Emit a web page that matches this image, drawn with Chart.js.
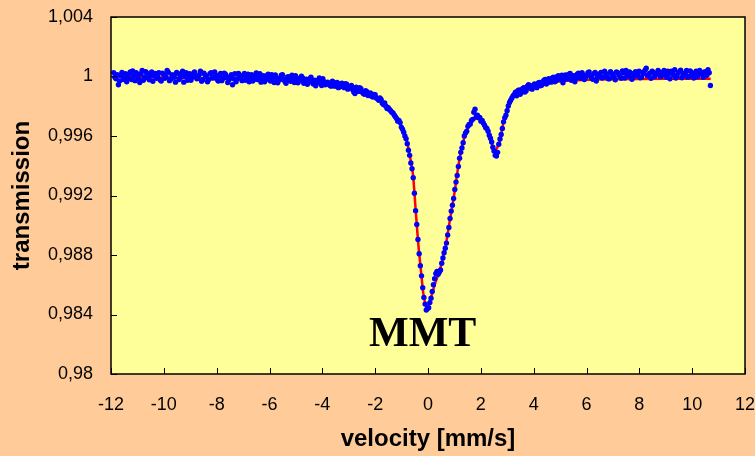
<!DOCTYPE html>
<html>
<head>
<meta charset="utf-8">
<script src="https://cdn.jsdelivr.net/npm/chart.js@4.4.1/dist/chart.umd.min.js"></script>
<style>
  html, body { margin: 0; padding: 0; background: #FFCC99; }
  #wrap { width: 755px; height: 456px; position: relative; }
</style>
</head>
<body>
<div id="wrap"><canvas id="c" width="755" height="456"></canvas></div>
<script>
// Measured Mössbauer spectrum: channel velocities (mm/s)
const velocity = [
  -11.900,-11.855,-11.810,-11.765,-11.720,-11.675,-11.630,-11.585,-11.540,-11.495,-11.450,-11.405,-11.360,-11.315,-11.270,-11.225,-11.180,-11.135,-11.090,-11.045,
  -11.000,-10.955,-10.910,-10.865,-10.820,-10.775,-10.730,-10.685,-10.640,-10.595,-10.550,-10.505,-10.460,-10.415,-10.370,-10.325,-10.280,-10.235,-10.190,-10.145,
  -10.100,-10.055,-10.010,-9.965,-9.920,-9.875,-9.830,-9.785,-9.740,-9.695,-9.650,-9.605,-9.560,-9.515,-9.470,-9.425,-9.380,-9.335,-9.290,-9.245,
  -9.200,-9.155,-9.110,-9.065,-9.020,-8.975,-8.930,-8.885,-8.840,-8.795,-8.750,-8.705,-8.660,-8.615,-8.570,-8.525,-8.480,-8.435,-8.390,-8.345,
  -8.300,-8.255,-8.210,-8.165,-8.120,-8.075,-8.030,-7.985,-7.940,-7.895,-7.850,-7.805,-7.760,-7.715,-7.670,-7.625,-7.580,-7.535,-7.490,-7.445,
  -7.400,-7.355,-7.310,-7.265,-7.220,-7.175,-7.130,-7.085,-7.040,-6.995,-6.950,-6.905,-6.860,-6.815,-6.770,-6.725,-6.680,-6.635,-6.590,-6.545,
  -6.500,-6.455,-6.410,-6.365,-6.320,-6.275,-6.230,-6.185,-6.140,-6.095,-6.050,-6.005,-5.960,-5.915,-5.870,-5.825,-5.780,-5.735,-5.690,-5.645,
  -5.600,-5.555,-5.510,-5.465,-5.420,-5.375,-5.330,-5.285,-5.240,-5.195,-5.150,-5.105,-5.060,-5.015,-4.970,-4.925,-4.880,-4.835,-4.790,-4.745,
  -4.700,-4.655,-4.610,-4.565,-4.520,-4.475,-4.430,-4.385,-4.340,-4.295,-4.250,-4.205,-4.160,-4.115,-4.070,-4.025,-3.980,-3.935,-3.890,-3.845,
  -3.800,-3.755,-3.710,-3.665,-3.620,-3.575,-3.530,-3.485,-3.440,-3.395,-3.350,-3.305,-3.260,-3.215,-3.170,-3.125,-3.080,-3.035,-2.990,-2.945,
  -2.900,-2.855,-2.810,-2.765,-2.720,-2.675,-2.630,-2.585,-2.540,-2.495,-2.450,-2.405,-2.360,-2.315,-2.270,-2.225,-2.180,-2.135,-2.090,-2.045,
  -2.000,-1.955,-1.910,-1.865,-1.820,-1.775,-1.730,-1.685,-1.640,-1.595,-1.550,-1.505,-1.460,-1.415,-1.370,-1.325,-1.280,-1.235,-1.190,-1.145,
  -1.100,-1.055,-1.010,-0.965,-0.920,-0.875,-0.830,-0.785,-0.740,-0.695,-0.650,-0.605,-0.560,-0.515,-0.470,-0.425,-0.380,-0.335,-0.290,-0.245,
  -0.200,-0.155,-0.110,-0.065,-0.020,0.025,0.070,0.115,0.160,0.205,0.250,0.295,0.340,0.385,0.430,0.475,0.520,0.565,0.610,0.655,
  0.700,0.745,0.790,0.835,0.880,0.925,0.970,1.015,1.060,1.105,1.150,1.195,1.240,1.285,1.330,1.375,1.420,1.465,1.510,1.555,
  1.600,1.645,1.690,1.735,1.780,1.825,1.870,1.915,1.960,2.005,2.050,2.095,2.140,2.185,2.230,2.275,2.320,2.365,2.410,2.455,
  2.500,2.545,2.590,2.635,2.680,2.725,2.770,2.815,2.860,2.905,2.950,2.995,3.040,3.085,3.130,3.175,3.220,3.265,3.310,3.355,
  3.400,3.445,3.490,3.535,3.580,3.625,3.670,3.715,3.760,3.805,3.850,3.895,3.940,3.985,4.030,4.075,4.120,4.165,4.210,4.255,
  4.300,4.345,4.390,4.435,4.480,4.525,4.570,4.615,4.660,4.705,4.750,4.795,4.840,4.885,4.930,4.975,5.020,5.065,5.110,5.155,
  5.200,5.245,5.290,5.335,5.380,5.425,5.470,5.515,5.560,5.605,5.650,5.695,5.740,5.785,5.830,5.875,5.920,5.965,6.010,6.055,
  6.100,6.145,6.190,6.235,6.280,6.325,6.370,6.415,6.460,6.505,6.550,6.595,6.640,6.685,6.730,6.775,6.820,6.865,6.910,6.955,
  7.000,7.045,7.090,7.135,7.180,7.225,7.270,7.315,7.360,7.405,7.450,7.495,7.540,7.585,7.630,7.675,7.720,7.765,7.810,7.855,
  7.900,7.945,7.990,8.035,8.080,8.125,8.170,8.215,8.260,8.305,8.350,8.395,8.440,8.485,8.530,8.575,8.620,8.665,8.710,8.755,
  8.800,8.845,8.890,8.935,8.980,9.025,9.070,9.115,9.160,9.205,9.250,9.295,9.340,9.385,9.430,9.475,9.520,9.565,9.610,9.655,
  9.700,9.745,9.790,9.835,9.880,9.925,9.970,10.015,10.060,10.105,10.150,10.195,10.240,10.285,10.330,10.375,10.420,10.465,10.510,10.555,
  10.600,10.645,10.690
];

// Relative transmission for each channel
const transmission = [
  1.00026,0.99995,0.99985,1.00012,0.99945,0.99970,1.00008,1.00028,0.99980,0.99992,1.00018,0.99965,0.99990,1.00015,1.00030,0.99980,1.00038,1.00005,0.99972,1.00025,
  1.00012,0.99985,0.99960,1.00018,1.00040,0.99975,0.99995,1.00032,1.00022,0.99990,0.99978,1.00008,1.00030,0.99968,1.00005,1.00020,0.99988,0.99998,1.00025,0.99978,
  0.99970,1.00022,1.00015,0.99988,0.99998,1.00040,1.00028,0.99972,0.99982,1.00010,1.00010,0.99995,0.99962,1.00028,1.00020,0.99980,0.99990,1.00015,1.00035,0.99962,
  1.00002,1.00025,0.99975,0.99995,1.00018,0.99975,0.99995,1.00018,1.00030,1.00002,0.99985,0.99988,1.00012,1.00035,0.99968,0.99978,1.00022,1.00008,1.00000,0.99965,
  0.99980,1.00018,1.00026,0.99990,0.99992,1.00030,1.00010,0.99982,0.99970,1.00005,1.00020,0.99972,0.99988,1.00022,1.00015,0.99995,0.99960,0.99978,0.99998,1.00012,
  0.99945,0.99985,1.00018,0.99965,0.99985,1.00020,1.00008,0.99990,0.99972,1.00008,1.00020,0.99975,0.99990,1.00015,0.99965,0.99995,1.00012,0.99970,0.99980,1.00010,
  1.00024,0.99980,0.99995,1.00018,0.99962,0.99990,1.00005,0.99965,0.99978,1.00005,1.00015,0.99985,0.99970,1.00012,0.99992,0.99960,1.00010,0.99992,0.99958,0.99975,
  0.99985,1.00008,1.00012,0.99980,0.99968,0.99955,0.99995,0.99998,0.99975,0.99968,1.00008,0.99985,0.99960,1.00005,0.99990,0.99958,0.99970,0.99978,1.00002,0.99990,
  0.99955,0.99970,0.99982,0.99948,0.99965,0.99985,0.99995,0.99962,0.99950,0.99975,0.99938,0.99955,0.99975,0.99990,0.99958,0.99940,0.99985,0.99965,0.99945,0.99950,
  0.99962,0.99952,0.99940,0.99935,0.99968,0.99962,0.99935,0.99940,0.99960,0.99925,0.99930,0.99950,0.99955,0.99932,0.99925,0.99952,0.99948,0.99915,0.99922,0.99930,
  0.99940,0.99912,0.99895,0.99885,0.99928,0.99910,0.99900,0.99925,0.99918,0.99895,0.99885,0.99880,0.99905,0.99898,0.99872,0.99880,0.99890,0.99868,0.99862,0.99880,
  0.99878,0.99855,0.99850,0.99840,0.99855,0.99845,0.99820,0.99812,0.99822,0.99800,0.99785,0.99790,0.99778,0.99770,0.99760,0.99755,0.99742,0.99730,0.99718,0.99700,
  0.99705,0.99690,0.99660,0.99645,0.99625,0.99600,0.99582,0.99548,0.99505,0.99470,0.99418,0.99380,0.99320,0.99215,0.99098,0.99005,0.98905,0.98808,0.98728,0.98660,
  0.98580,0.98515,0.98470,0.98430,0.98440,0.98445,0.98480,0.98510,0.98555,0.98600,0.98640,0.98675,0.98690,0.98670,0.98685,0.98700,0.98745,0.98780,0.98815,0.98845,
  0.98880,0.98935,0.98985,0.99045,0.99095,0.99135,0.99180,0.99240,0.99290,0.99335,0.99395,0.99450,0.99490,0.99520,0.99555,0.99600,0.99620,0.99632,0.99665,0.99678,
  0.99680,0.99705,0.99712,0.99760,0.99780,0.99730,0.99740,0.99722,0.99725,0.99700,0.99705,0.99688,0.99672,0.99655,0.99650,0.99632,0.99605,0.99585,0.99560,0.99525,
  0.99500,0.99470,0.99465,0.99490,0.99545,0.99580,0.99610,0.99650,0.99695,0.99722,0.99740,0.99770,0.99802,0.99825,0.99840,0.99855,0.99870,0.99880,0.99895,0.99870,
  0.99905,0.99910,0.99880,0.99892,0.99918,0.99925,0.99895,0.99905,0.99935,0.99945,0.99940,0.99920,0.99915,0.99940,0.99950,0.99935,0.99925,0.99955,0.99960,0.99938,
  0.99942,0.99965,0.99975,0.99980,0.99950,0.99958,0.99985,0.99975,0.99962,0.99990,0.99995,0.99965,0.99970,0.99998,1.00005,0.99985,0.99978,1.00008,0.99958,0.99980,
  1.00010,0.99995,0.99985,1.00015,1.00020,0.99975,0.99990,1.00005,0.99965,0.99990,1.00015,1.00022,0.99998,0.99988,1.00025,1.00010,0.99980,0.99995,1.00008,1.00025,
  1.00030,1.00005,0.99992,0.99982,1.00018,1.00028,0.99970,0.99995,1.00012,1.00018,1.00028,0.99990,0.99995,1.00035,1.00020,1.00008,0.99985,0.99985,1.00032,1.00020,
  1.00005,0.99995,0.99978,1.00030,1.00025,1.00010,1.00002,0.99988,1.00038,1.00025,0.99990,1.00040,1.00015,1.00002,1.00030,1.00020,0.99982,0.99995,1.00022,1.00032,
  1.00005,1.00012,1.00035,0.99992,0.99995,1.00028,1.00020,1.00042,1.00055,1.00005,1.00010,1.00022,0.99988,1.00035,1.00028,0.99998,1.00012,1.00018,1.00040,1.00030,
  0.99998,1.00008,1.00025,1.00040,1.00008,0.99995,1.00035,1.00020,0.99985,1.00035,1.00022,1.00010,1.00045,0.99990,1.00005,1.00028,1.00030,1.00042,0.99992,1.00005,
  1.00018,1.00025,1.00040,0.99995,1.00002,1.00038,1.00028,1.00015,0.99990,1.00022,1.00035,0.99998,1.00012,1.00040,1.00025,1.00018,0.99995,1.00030,1.00030,1.00008,
  1.00045,1.00025,0.99940
];

// Fitted curve (two-doublet model), sampled at its knots
const fitVelocity = [
  -11.90,-10.00,-8.00,-6.00,-5.00,-4.00,-3.50,-3.00,-2.60,-2.20,-1.90,-1.60,-1.40,
  -1.20,-1.00,-0.85,-0.75,-0.65,-0.56,-0.47,-0.37,-0.27,-0.18,-0.10,-0.04,
  0.04,0.12,0.27,0.45,0.64,0.83,1.00,1.15,1.30,1.45,1.60,1.75,1.90,2.05,2.20,
  2.35,2.45,2.54,2.63,2.73,2.83,2.92,3.02,3.11,3.30,3.55,4.00,4.50,5.00,6.00,
  7.00,8.00,9.00,10.70
];
const fitTransmission = [
  0.99998,0.99993,0.99985,0.99975,0.99968,0.99958,0.99950,0.99938,0.99912,0.99885,0.99862,0.99815,0.99780,
  0.99730,0.99665,0.99600,0.99525,0.99430,0.99327,0.99110,0.98880,0.98700,0.98545,0.98470,0.98450,
  0.98475,0.98520,0.98610,0.98700,0.98835,0.99035,0.99215,0.99400,0.99540,0.99630,0.99685,0.99712,0.99718,0.99700,0.99660,
  0.99595,0.99530,0.99505,0.99525,0.99575,0.99670,0.99730,0.99790,0.99830,0.99875,0.99898,0.99930,0.99955,0.99968,0.99978,
  0.99982,0.99984,0.99985,0.99985
];

// Axis ticks
const xTicks = [-12,-10,-8,-6,-4,-2,0,2,4,6,8,10,12];
const xTickLabels = ['-12','-10','-8','-6','-4','-2','0','2','4','6','8','10','12'];
const yTicks = [0.980,0.984,0.988,0.992,0.996,1.000,1.004];
const yTickLabels = ['0,98','0,984','0,988','0,992','0,996','1','1,004'];

const sampleName = 'MMT';

const measured = velocity.map((v, i) => ({ x: v, y: transmission[i] }));
const fitted = fitVelocity.map((v, i) => ({ x: v, y: fitTransmission[i] }));

// Yellow plot area, full frame and inward tick marks
const frame = {
  id: 'frame',
  beforeDatasetsDraw(chart) {
    const { ctx, chartArea: a } = chart;
    ctx.save();
    ctx.fillStyle = '#FFFF99';
    ctx.fillRect(a.left, a.top, a.right - a.left, a.bottom - a.top);
    ctx.restore();
  },
  afterDatasetsDraw(chart) {
    const { ctx, chartArea: a, scales } = chart;
    ctx.save();
    ctx.strokeStyle = '#000';
    ctx.lineWidth = 1.5;
    ctx.strokeRect(a.left, a.top, a.right - a.left, a.bottom - a.top);
    ctx.lineWidth = 1;
    ctx.beginPath();
    xTicks.forEach(t => {
      const px = Math.round(scales.x.getPixelForValue(t)) + 0.5;
      ctx.moveTo(px, a.bottom);
      ctx.lineTo(px, a.bottom - 6);
    });
    yTicks.forEach(t => {
      const py = Math.round(scales.y.getPixelForValue(t)) + 0.5;
      ctx.moveTo(a.left, py);
      ctx.lineTo(a.left + 6, py);
    });
    ctx.stroke();
    // sample label
    ctx.fillStyle = '#000';
    ctx.font = 'bold 42px "Liberation Serif", "Times New Roman", serif';
    ctx.textAlign = 'center';
    ctx.textBaseline = 'middle';
    ctx.fillText(sampleName, scales.x.getPixelForValue(-0.2), scales.y.getPixelForValue(0.98262));
    ctx.restore();
  }
};

const tickFont = { family: '"Liberation Sans", Arial, sans-serif', size: 18 };
const titleFont = { family: '"Liberation Sans", Arial, sans-serif', size: 24, weight: 'bold' };

new Chart(document.getElementById('c'), {
  type: 'scatter',
  data: {
    datasets: [
      {
        data: measured,
        order: 0,
        pointRadius: 2.7,
        pointBackgroundColor: '#0000FF',
        pointBorderWidth: 0,
        borderColor: '#0000FF',
        showLine: false
      },
      {
        data: fitted,
        order: 1,
        showLine: true,
        pointRadius: 0,
        borderColor: '#FF0000',
        borderWidth: 2.5,
        cubicInterpolationMode: 'monotone'
      }
    ]
  },
  options: {
    responsive: false,
    animation: false,
    layout: { padding: { top: 17, right: 10, left: 0, bottom: 0 } },
    plugins: { legend: { display: false }, tooltip: { enabled: false } },
    scales: {
      x: {
        type: 'linear',
        min: -12, max: 12,
        afterFit(s) { s.height = 82; s.paddingLeft = 0; s.paddingRight = 0; },
        afterBuildTicks(s) { s.ticks = xTicks.map(v => ({ value: v })); },
        grid: { display: false, drawTicks: false },
        border: { display: false },
        ticks: {
          color: '#000', font: tickFont, padding: 20, maxRotation: 0,
          callback: (v, i) => xTickLabels[i]
        },
        title: { display: true, text: 'velocity [mm/s]', color: '#000', font: titleFont, padding: { bottom: 2 } }
      },
      y: {
        type: 'linear',
        min: 0.98, max: 1.004,
        afterFit(s) { s.width = 111; s.paddingTop = 0; s.paddingBottom = 0; },
        afterBuildTicks(s) { s.ticks = yTicks.map(v => ({ value: v })); },
        grid: { display: false, drawTicks: false },
        border: { display: false },
        ticks: {
          color: '#000', font: tickFont, padding: 18,
          callback: (v, i) => yTickLabels[i]
        },
        title: { display: true, text: 'transmission', color: '#000', font: titleFont, padding: { top: 8 } }
      }
    }
  },
  plugins: [frame]
});
</script>
</body>
</html>
